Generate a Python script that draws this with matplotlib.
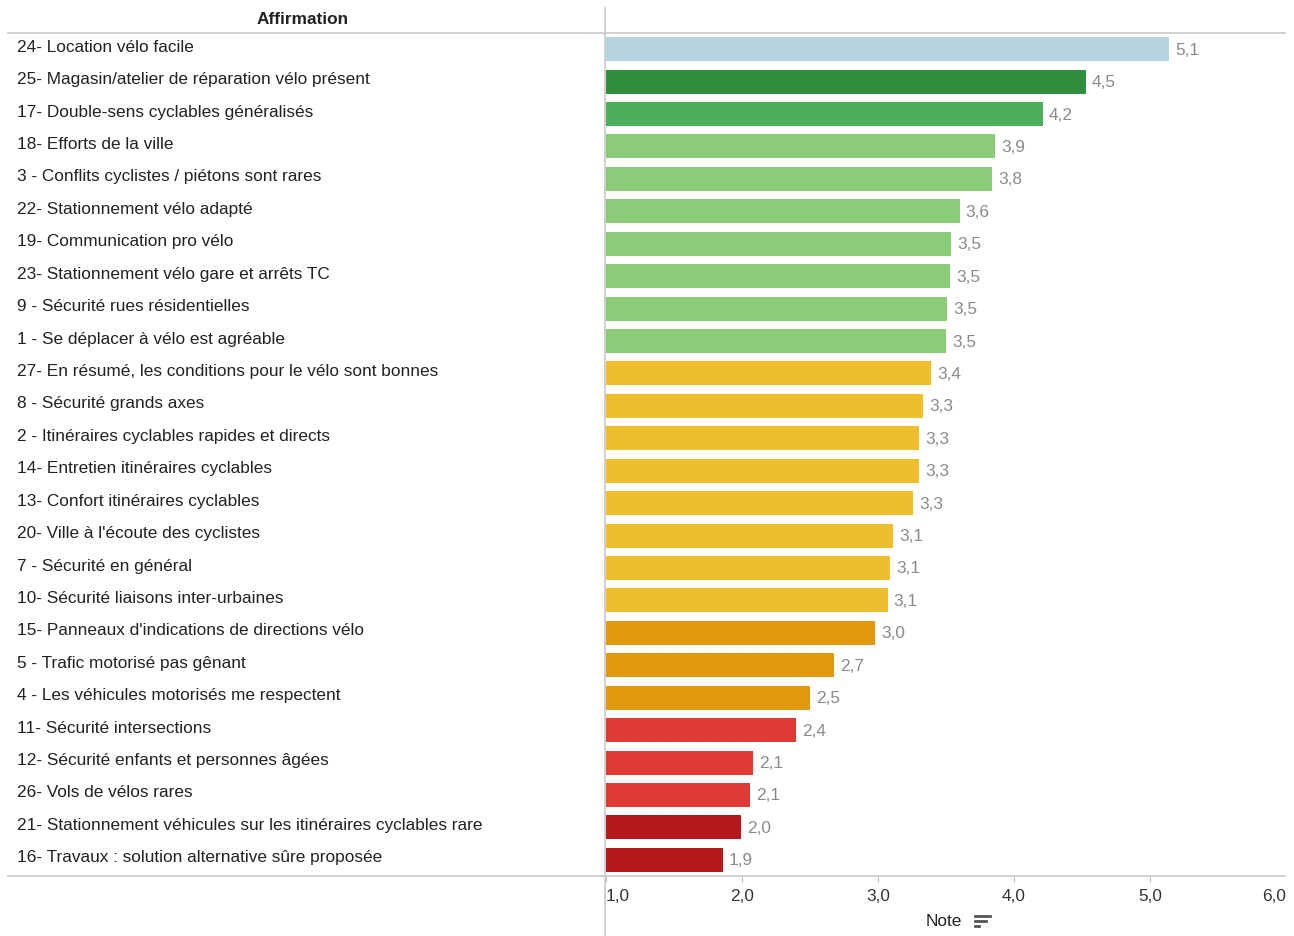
import numpy as np
import matplotlib.pyplot as plt
from matplotlib import transforms
from matplotlib.lines import Line2D

plt.rcParams['font.family'] = ['Liberation Sans', 'DejaVu Sans']

affirmations = [
    "24- Location vélo facile",
    "25- Magasin/atelier de réparation vélo présent",
    "17- Double-sens cyclables généralisés",
    "18- Efforts de la ville",
    "3 - Conflits cyclistes / piétons sont rares",
    "22- Stationnement vélo adapté",
    "19- Communication pro vélo",
    "23- Stationnement vélo gare et arrêts TC",
    "9 - Sécurité rues résidentielles",
    "1 - Se déplacer à vélo est agréable",
    "27- En résumé, les conditions pour le vélo sont bonnes",
    "8 - Sécurité grands axes",
    "2 - Itinéraires cyclables rapides et directs",
    "14- Entretien itinéraires cyclables",
    "13- Confort itinéraires cyclables",
    "20- Ville à l'écoute des cyclistes",
    "7 - Sécurité en général",
    "10- Sécurité liaisons inter-urbaines",
    "15- Panneaux d'indications de directions vélo",
    "5 - Trafic motorisé pas gênant",
    "4 - Les véhicules motorisés me respectent",
    "11- Sécurité intersections",
    "12- Sécurité enfants et personnes âgées",
    "26- Vols de vélos rares",
    "21- Stationnement véhicules sur les itinéraires cyclables rare",
    "16- Travaux : solution alternative sûre proposée",
]
notes = [5.14, 4.53, 4.21, 3.86, 3.84, 3.60, 3.54, 3.53, 3.51, 3.50,
         3.39, 3.33, 3.30, 3.30, 3.26, 3.11, 3.09, 3.07, 2.98, 2.68,
         2.50, 2.40, 2.08, 2.06, 1.99, 1.86]
groups = ['bleu', 'vert fonce', 'vert', 'vert clair', 'vert clair', 'vert clair',
          'vert clair', 'vert clair', 'vert clair', 'vert clair',
          'jaune', 'jaune', 'jaune', 'jaune', 'jaune', 'jaune', 'jaune', 'jaune',
          'orange', 'orange', 'orange', 'rouge', 'rouge', 'rouge',
          'rouge fonce', 'rouge fonce']
palette = {'bleu': '#b6d4dd', 'vert fonce': '#2f8f3f', 'vert': '#4dae5b',
           'vert clair': '#8acc79', 'jaune': '#efbe2e', 'orange': '#e29a0c',
           'rouge': '#e03a36', 'rouge fonce': '#b5191e'}
xticks = [1, 2, 3, 4, 5, 6]

W, H = 1294, 936
fig = plt.figure(figsize=(W / 100, H / 100), dpi=100)
ax = fig.add_axes([606 / W, 1 - 876 / H, (1286 - 606) / W, (876 - 33) / H])

y = np.arange(len(notes))
vals = np.array(notes)
ax.barh(y, vals - 1, left=1, height=0.74,
        color=[palette[g] for g in groups])
ax.set_xlim(1, 6)
ax.set_ylim(len(notes) - 0.5, -0.5)

for i, v in enumerate(vals):
    ax.annotate(f"{v:.1f}".replace('.', ','), (v, i), xytext=(6, -1),
                textcoords='offset pixels', va='center', ha='left',
                fontsize=12.4, color='#8a8a8a')

lab_tr = transforms.blended_transform_factory(fig.transFigure, ax.transData)
for i, a in enumerate(affirmations):
    ax.text(17 / W, i - 0.06, a, transform=lab_tr, ha='left', va='center',
            fontsize=12.4, color='#222222')

for s in ax.spines.values():
    s.set_visible(False)
ax.set_yticks([])
ax.set_xticks(xticks)
ax.set_xticklabels([f"{t:.1f}".replace('.', ',') for t in xticks])
ax.tick_params(axis='x', length=4.5, color='#c0c0c0', pad=5,
               labelsize=12.4, labelcolor='#333333')
lbls = ax.get_xticklabels()
lbls[0].set_ha('left')
lbls[-1].set_ha('right')
ax.xaxis.get_major_ticks()[-1].tick1line.set_visible(False)

# cadre façon tableau
fig.add_artist(Line2D([8 / W, 1285 / W], [1 - 33 / H, 1 - 33 / H],
                      color='#c8c8c8', lw=1.2))
fig.add_artist(Line2D([8 / W, 1285 / W], [1 - 876 / H, 1 - 876 / H],
                      color='#c8c8c8', lw=1.2))
fig.add_artist(Line2D([605 / W, 605 / W], [1 - 8 / H, 0],
                      color='#c8c8c8', lw=1.2))

fig.text(303 / W, 1 - 19 / H, "Affirmation", ha='center', va='center',
         fontsize=12.4, fontweight='bold', color='#222222')
fig.text(944 / W, 1 - 921 / H, "Note", ha='center', va='center',
         fontsize=12.4, color='#222222')
# petite icône de tri
for k, (x0, x1) in enumerate([(975, 990), (975, 986), (975, 979)]):
    yy = 1 - (916 + k * 5) / H
    fig.add_artist(Line2D([x0 / W, x1 / W], [yy, yy], color='#555555', lw=2))

fig.savefig('out.png', dpi=100)
